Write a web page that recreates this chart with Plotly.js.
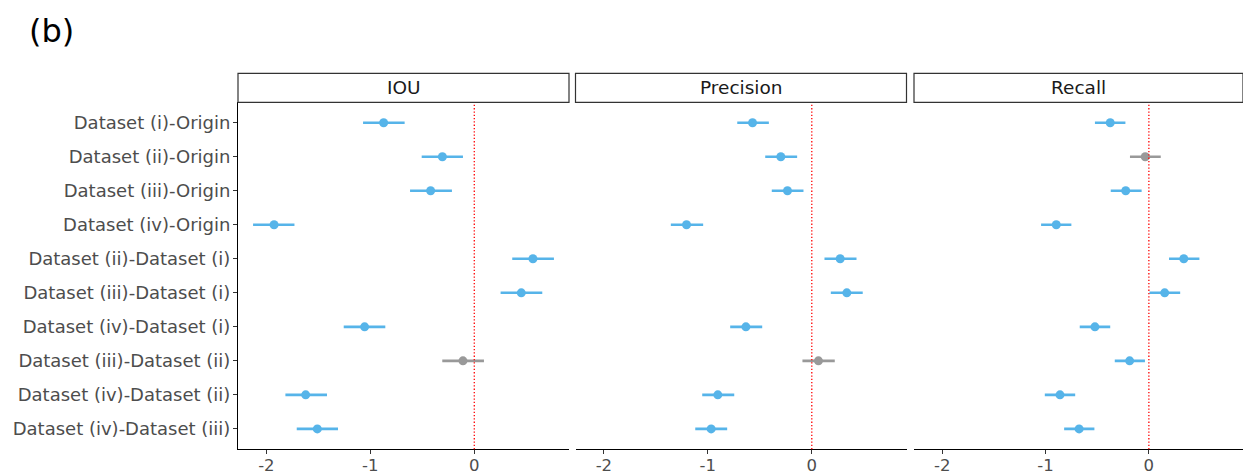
<!DOCTYPE html>
<html>
<head>
<meta charset="utf-8">
<script src="https://cdn.plot.ly/plotly-3.0.1.min.js"></script>
<style>
html,body{margin:0;padding:0;background:#fff;overflow:hidden;}
#chart{width:1243px;height:476px;}
</style>
</head>
<body>
<div id="chart"></div>
<script>
// ---- data ----
var rows = ["Dataset (i)-Origin","Dataset (ii)-Origin","Dataset (iii)-Origin","Dataset (iv)-Origin",
  "Dataset (ii)-Dataset (i)","Dataset (iii)-Dataset (i)","Dataset (iv)-Dataset (i)",
  "Dataset (iii)-Dataset (ii)","Dataset (iv)-Dataset (ii)","Dataset (iv)-Dataset (iii)"];
var metrics = ["IOU","Precision","Recall"];

var iouEst  = [-0.872,-0.307,-0.420,-1.926, 0.564, 0.452,-1.055,-0.109,-1.622,-1.510];
var iouLow  = [-1.070,-0.506,-0.618,-2.128, 0.365, 0.253,-1.256,-0.308,-1.817,-1.708];
var iouHigh = [-0.670,-0.109,-0.215,-1.730, 0.766, 0.654,-0.856, 0.093,-1.417,-1.311];
var iouSig  = [1,1,1,1,1,1,1,0,1,1];

var precEst  = [-0.570,-0.298,-0.234,-1.205, 0.273, 0.337,-0.634, 0.064,-0.904,-0.968];
var precLow  = [-0.717,-0.448,-0.385,-1.356, 0.122, 0.183,-0.785,-0.090,-1.054,-1.121];
var precHigh = [-0.413,-0.141,-0.080,-1.045, 0.430, 0.490,-0.477, 0.221,-0.746,-0.814];
var precSig  = [1,1,1,1,1,1,1,0,1,1];

var recEst  = [-0.374,-0.035,-0.224,-0.896, 0.338, 0.153,-0.522,-0.186,-0.860,-0.675];
var recLow  = [-0.522,-0.183,-0.369,-1.043, 0.195, 0.006,-0.669,-0.330,-1.007,-0.820];
var recHigh = [-0.227, 0.115,-0.070,-0.750, 0.489, 0.303,-0.374,-0.038,-0.713,-0.527];
var recSig  = [1,0,1,1,1,1,1,1,1,1];

var xTickVals = [-2,-1,0];
var xTickText = ["-2","-1","0"];

// ---- build ----
var W = 1243, H = 476;
var FONT = "DejaVu Sans, Liberation Sans, Arial, sans-serif";
var BLUE = "#56B4E9", GREY = "#999999";
var panelsPx = [[238,569],[575.5,906.5],[914,1243]];
var yDom = [(H-449.3)/H, (H-102.3)/H];
var stripTop = (H-73.3)/H;
var xRange = [-2.273, 0.911];

var sets = [
  {est:iouEst, low:iouLow, high:iouHigh, sig:iouSig},
  {est:precEst, low:precLow, high:precHigh, sig:precSig},
  {est:recEst, low:recLow, high:recHigh, sig:recSig}
];

var traces = [];
sets.forEach(function(s, p){
  var xa = p === 0 ? "x" : "x" + (p+1);
  [1,0].forEach(function(flag){
    var xs=[], ys=[], ep=[], em=[];
    for (var i=0;i<rows.length;i++){
      if (s.sig[i] === flag){
        xs.push(s.est[i]); ys.push(rows[i]);
        ep.push(s.high[i]-s.est[i]); em.push(s.est[i]-s.low[i]);
      }
    }
    var col = flag ? BLUE : GREY;
    traces.push({
      type:"scatter", mode:"markers", x:xs, y:ys, xaxis:xa, yaxis:"y",
      marker:{color:col, size:9, line:{width:0}},
      error_x:{type:"data", symmetric:false, array:ep, arrayminus:em, color:col, thickness:2.6, width:0},
      hoverinfo:"x+y", showlegend:false
    });
  });
});

var layout = {
  width:W, height:H,
  margin:{l:0,r:0,t:0,b:0},
  paper_bgcolor:"#ffffff", plot_bgcolor:"#ffffff",
  font:{family:FONT, size:17, color:"#4D4D4D"},
  showlegend:false,
  yaxis:{
    domain:yDom, type:"category", categoryorder:"array", categoryarray:rows,
    range:[rows.length-0.4, -0.6], showgrid:false, zeroline:false,
    showline:true, linecolor:"#000000", linewidth:1,
    ticks:"outside", ticklen:4, tickcolor:"#333333", tickwidth:1,
    ticklabelstandoff:-1,
    tickfont:{family:FONT, size:18, color:"#4D4D4D"},
    anchor:"x", fixedrange:true
  },
  shapes:[], annotations:[]
};

panelsPx.forEach(function(px, p){
  var key = p === 0 ? "xaxis" : "xaxis" + (p+1);
  layout[key] = {
    domain:[px[0]/W, px[1]/W], range:xRange, anchor:"y",
    showgrid:false, zeroline:false,
    showline:true, linecolor:"#000000", linewidth:1,
    ticks:"outside", ticklen:4, tickcolor:"#333333", tickwidth:1,
    tickmode:"array", tickvals:xTickVals, ticktext:xTickText,
    ticklabelstandoff:-3,
    tickfont:{family:FONT, size:16.5, color:"#4D4D4D"},
    fixedrange:true
  };
  var xref = p === 0 ? "x" : "x" + (p+1);
  layout.shapes.push({
    type:"line", xref:xref, yref:"y domain", x0:0, x1:0, y0:0, y1:1,
    line:{color:"#FF0000", width:1.3, dash:"1.3px,2px"}
  });
  layout.shapes.push({
    type:"rect", xref:"paper", yref:"paper",
    x0:px[0]/W, x1:px[1]/W, y0:yDom[1], y1:stripTop,
    line:{color:"#333333", width:1.2}, fillcolor:"#ffffff"
  });
  layout.annotations.push({
    xref:"paper", yref:"paper", x:(px[0]+px[1])/2/W, y:(yDom[1]+stripTop)/2,
    text:metrics[p], showarrow:false, xanchor:"center", yanchor:"middle",
    font:{family:FONT, size:18.5, color:"#1A1A1A"}
  });
});

layout.annotations.push({
  xref:"paper", yref:"paper", x:51/W, y:(H-31)/H,
  text:"(b)", showarrow:false, xanchor:"center", yanchor:"middle",
  font:{family:FONT, size:32, color:"#000000"}
});

Plotly.newPlot("chart", traces, layout, {displayModeBar:false, staticPlot:true});
</script>
</body>
</html>
